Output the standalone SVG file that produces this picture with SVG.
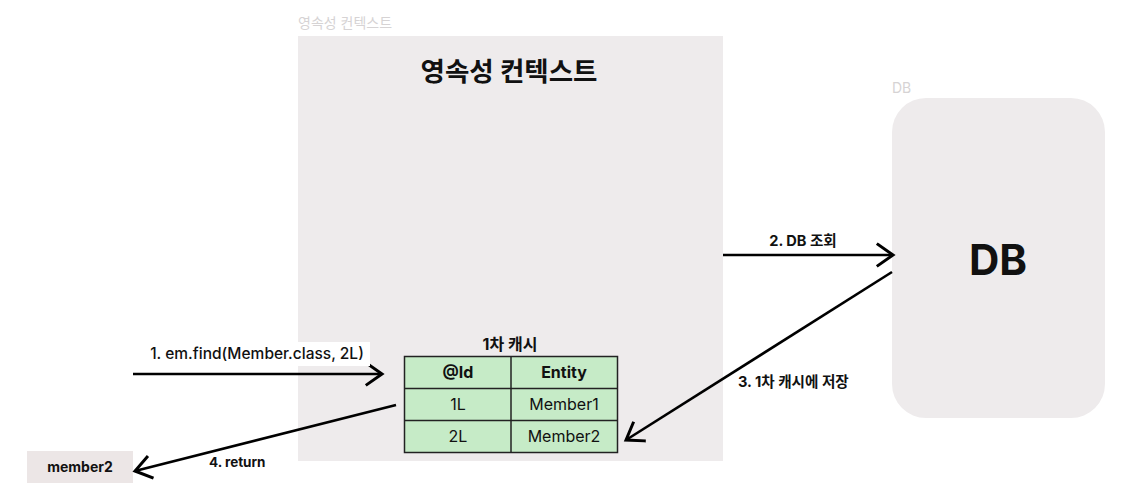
<svg xmlns="http://www.w3.org/2000/svg" width="1125" height="500" viewBox="0 0 1125 500">
<style>
text{font-family:Inter,"Noto Sans CJK KR",sans-serif;fill:#111}
.cap{font-size:14px;fill:#d6d3d4}
.lbl{font-size:14.6px;font-weight:700}
.cell{font-size:16px;text-anchor:middle}
.conn{stroke:#000;stroke-width:2.6;fill:none;marker-end:url(#ah)}
</style>
<defs>
<marker id="ah" markerUnits="userSpaceOnUse" markerWidth="24" markerHeight="26" refX="18" refY="12" orient="auto" viewBox="0 0 24 24">
<path d="M3,1.5 L18,12 L3,22.5" fill="none" stroke="#000" stroke-width="3" stroke-linecap="square"/>
</marker>
</defs>
<rect width="1125" height="500" fill="#fff"/>
<g id="context">
<text class="cap" x="298" y="28">영속성 컨텍스트</text>
<rect x="298" y="36" width="425" height="425" fill="#EEEBEC"/>
<text x="509" y="81" font-size="26.5" font-weight="700" text-anchor="middle">영속성 컨텍스트</text>
</g>
<g id="db">
<text class="cap" x="892" y="93">DB</text>
<rect x="892" y="98" width="213" height="320" rx="34" fill="#EEEBEC"/>
<text x="998" y="275" font-size="42" font-weight="700" text-anchor="middle">DB</text>
</g>
<g id="cache">
<text x="510" y="350" font-size="16" font-weight="700" text-anchor="middle">1차 캐시</text>
<rect x="404.5" y="356.5" width="213" height="96" fill="#C6EBC7" stroke="#222" stroke-width="1.5"/>
<line x1="404.5" y1="388.5" x2="617.5" y2="388.5" stroke="#222" stroke-width="1.5"/>
<line x1="404.5" y1="420.5" x2="617.5" y2="420.5" stroke="#222" stroke-width="1.5"/>
<line x1="511" y1="356.5" x2="511" y2="452.5" stroke="#222" stroke-width="1.5"/>
<text class="cell" x="458" y="378" font-weight="700">@Id</text>
<text class="cell" x="564" y="378" font-weight="700">Entity</text>
<text class="cell" x="458" y="410">1L</text>
<text class="cell" x="564" y="410">Member1</text>
<text class="cell" x="458" y="442">2L</text>
<text class="cell" x="564" y="442">Member2</text>
</g>
<g id="member2">
<rect x="27" y="451" width="106" height="32" fill="#ECE6E6"/>
<text x="80" y="472" font-size="14" font-weight="700" text-anchor="middle">member2</text>
</g>
<g id="connectors">
<line class="conn" x1="133" y1="374" x2="382" y2="374"/>
<rect x="142" y="342" width="228" height="24" fill="#fff"/>
<text x="257" y="359" font-size="15.5" font-weight="500" text-anchor="middle">1. em.find(Member.class, 2L)</text>
<line class="conn" x1="723" y1="255" x2="893" y2="255"/>
<text class="lbl" x="803" y="246" text-anchor="middle">2. DB 조회</text>
<line class="conn" x1="892" y1="272" x2="626" y2="440"/>
<text class="lbl" x="738" y="387">3. 1차 캐시에 저장</text>
<line class="conn" x1="396" y1="405" x2="135" y2="471"/>
<text x="209" y="467" font-size="13.5" font-weight="700">4. return</text>
</g>
</svg>
